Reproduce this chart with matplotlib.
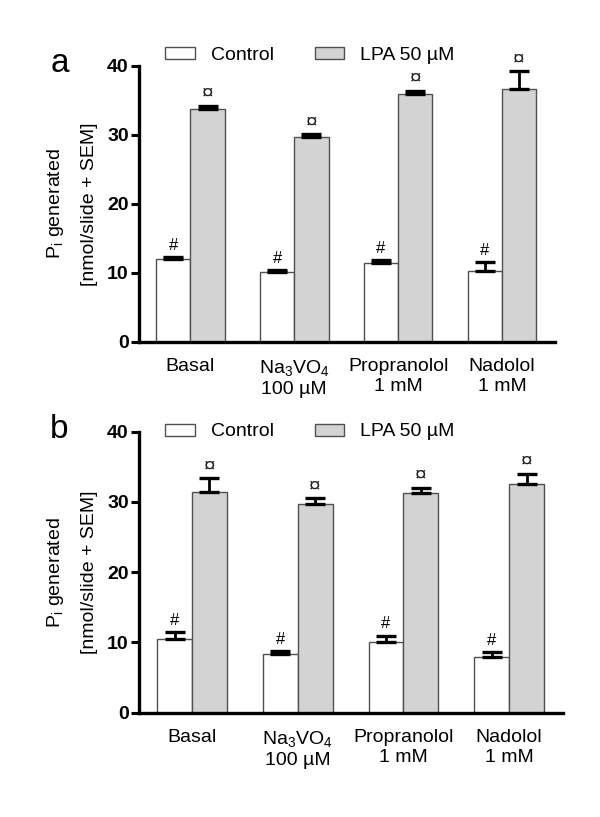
import numpy as np
import matplotlib
matplotlib.use("Agg")
import matplotlib.pyplot as plt

plt.rcParams['font.family'] = ['Liberation Sans', 'DejaVu Sans']
plt.rcParams['mathtext.default'] = 'regular'

categories = ['Basal', 'Na$_3$VO$_4$\n100 µM', 'Propranolol\n1 mM', 'Nadolol\n1 mM']
series_names = ['Control', 'LPA 50 µM']

# panel a
ctrl_a = [11.95, 10.16, 11.38, 10.2]
ctrl_a_sem = [0.35, 0.2, 0.4, 1.4]
lpa_a = [33.7, 29.66, 35.9, 36.7]
lpa_a_sem = [0.55, 0.45, 0.5, 2.5]

# panel b
ctrl_b = [10.54, 8.3, 10.07, 7.98]
ctrl_b_sem = [0.9, 0.45, 0.9, 0.6]
lpa_b = [31.44, 29.7, 31.3, 32.56]
lpa_b_sem = [1.9, 0.8, 0.75, 1.45]

yticks = [0, 10, 20, 30, 40]

fig = plt.figure(figsize=(6, 8.17), dpi=100)


def draw_panel(rect, xlim, ctrl, ctrl_sem, lpa, lpa_sem, letter, letter_pos, leg_y):
    ax = fig.add_axes(rect)
    x = np.arange(len(categories))
    w = 0.33
    err_kw = dict(ecolor='black', elinewidth=2.0, capsize=7.2, capthick=2.4)
    ax.bar(x - w / 2, ctrl, w, color='white', edgecolor='#505050', linewidth=1.0,
           yerr=[np.zeros(4), ctrl_sem], error_kw=err_kw, label=series_names[0], zorder=2)
    ax.bar(x + w / 2, lpa, w, color='#d3d3d3', edgecolor='#505050', linewidth=1.0,
           yerr=[np.zeros(4), lpa_sem], error_kw=err_kw, label=series_names[1], zorder=2)

    for xi, v, s in zip(x - w / 2, ctrl, ctrl_sem):
        ax.annotate('#', (xi, v + s), xytext=(0, 3), textcoords='offset points',
                    ha='center', va='bottom', fontsize=12)
    for xi, v, s in zip(x + w / 2, lpa, lpa_sem):
        ax.annotate('¤', (xi, v + s), xytext=(0, 2), textcoords='offset points',
                    ha='center', va='bottom', fontsize=15, color='#222222')

    ax.set_xlim(*xlim)
    ax.set_ylim(0, 40)
    ax.set_yticks(yticks)
    ax.set_xticks(x)
    ax.set_xticklabels(categories, fontsize=14, linespacing=1.2)
    for lab in ax.get_yticklabels():
        lab.set_fontweight('bold')
        lab.set_fontsize(14)
    ax.tick_params(axis='x', length=0, pad=12)
    ax.tick_params(axis='y', length=6, width=2.2, pad=1)
    for side in ['top', 'right']:
        ax.spines[side].set_visible(False)
    for side in ['left', 'bottom']:
        ax.spines[side].set_linewidth(2.4)

    ax.legend(ncol=2, loc='center left', bbox_to_anchor=(165 / 600, 1 - leg_y / 817),
              bbox_transform=fig.transFigure, frameon=False, fontsize=14,
              handlelength=1.53, handleheight=0.57, handletextpad=0.82,
              columnspacing=2.1, borderpad=0, borderaxespad=0)

    yc = rect[1] + rect[3] / 2
    fig.text(56 / 600, yc, 'P$_i$ generated', rotation=90, ha='center', va='center', fontsize=14)
    fig.text(90 / 600, yc, '[nmol/slide + SEM]', rotation=90, ha='center', va='center', fontsize=14)
    fig.text(letter_pos[0], letter_pos[1], letter, fontsize=24, ha='center', va='baseline')
    return ax


draw_panel([138.5 / 600, 0.5818, 0.6942, 0.3375], (-0.5, 3.51),
           ctrl_a, ctrl_a_sem, lpa_a, lpa_a_sem, 'a', (0.1005, 0.9122), 55.5)
draw_panel([138.5 / 600, 0.1277, 0.7068, 0.3439], (-0.506, 3.506),
           ctrl_b, ctrl_b_sem, lpa_b, lpa_b_sem, 'b', (0.0987, 0.4639), 432)

fig.savefig('out.png', dpi=100)
